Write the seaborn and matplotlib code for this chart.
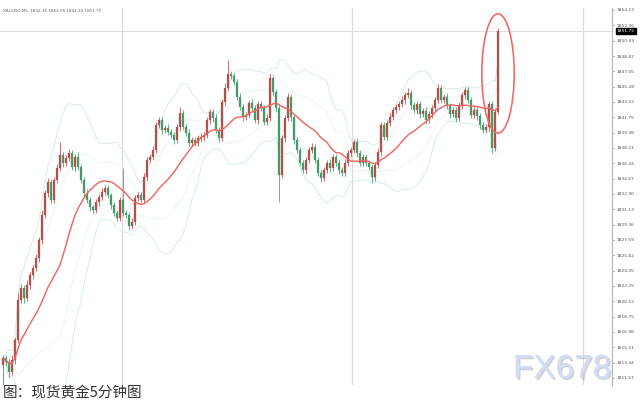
import numpy as np
import pandas as pd
import matplotlib
matplotlib.use("Agg")
import matplotlib.pyplot as plt
import seaborn as sns
from matplotlib.patches import Ellipse
import matplotlib.patheffects as pe
import matplotlib.transforms as mtransforms

# ---------------- data (XAUUSD 5-minute candles) ----------------
first_open = 1813.20
closes = [
    1813.97, 1813.51, 1812.35, 1813.74, 1816.04, 1820.66, 1822.04, 1820.89, 1822.39, 1823.54,
    1824.35, 1825.51, 1827.58, 1830.47, 1833.01, 1834.28, 1832.20, 1834.51, 1835.89, 1837.39,
    1836.47, 1837.05, 1837.62, 1836.01, 1837.16, 1836.01, 1834.51, 1833.01, 1832.20, 1831.39,
    1831.05, 1831.97, 1832.55, 1833.12, 1833.58, 1832.78, 1831.62, 1830.70, 1830.12, 1832.20,
    1830.70, 1830.47, 1829.20, 1829.66, 1832.43, 1832.78, 1832.20, 1834.85, 1836.82, 1837.16,
    1837.97, 1840.85, 1841.43, 1840.28, 1840.51, 1840.05, 1839.70, 1839.12, 1840.62, 1842.24,
    1840.62, 1839.93, 1838.78, 1839.12, 1838.78, 1839.35, 1839.47, 1839.70, 1841.43, 1842.36,
    1841.66, 1840.28, 1839.35, 1843.51, 1845.12, 1846.74, 1846.51, 1845.82, 1844.09, 1842.93,
    1841.78, 1842.01, 1843.39, 1842.82, 1841.43, 1843.28, 1842.82, 1841.20, 1841.66, 1846.28,
    1844.66, 1842.82, 1835.08, 1839.35, 1841.66, 1844.09, 1841.78, 1839.12, 1837.97, 1836.47,
    1835.66, 1836.82, 1837.97, 1838.32, 1836.82, 1835.32, 1834.74, 1835.66, 1836.47, 1835.89,
    1837.16, 1836.47, 1835.66, 1835.32, 1836.47, 1837.62, 1837.97, 1838.89, 1837.62, 1836.47,
    1837.16, 1836.47, 1836.01, 1834.85, 1836.24, 1837.74, 1840.85, 1839.47, 1841.09, 1841.78,
    1842.59, 1842.93, 1843.28, 1843.74, 1844.32, 1844.55, 1843.16, 1842.59, 1843.28, 1842.12,
    1842.47, 1841.43, 1842.12, 1842.82, 1843.74, 1845.12, 1843.74, 1844.09, 1843.05, 1842.12,
    1842.59, 1841.66, 1843.05, 1844.32, 1844.89, 1843.74, 1842.01, 1842.59, 1841.89, 1840.85,
    1840.28, 1840.62, 1843.28, 1838.20, 1842.36, 1851.75,
]
upper_wick = [
    0.4, 0.3, 0.5, 0.6, 0.4, 0.8, 0.5, 0.3, 0.6, 0.4,
    0.3, 0.5, 0.4, 0.6, 0.3, 0.5, 0.4, 0.3, 0.5, 1.5,
    0.4, 0.3, 0.5, 0.3, 0.4, 0.6, 0.3, 0.4, 0.5, 0.3,
    0.2, 0.4, 0.3, 0.5, 0.3, 0.4, 0.2, 0.3, 0.4, 0.3,
    3.7, 0.3, 0.4, 0.5, 0.3, 0.4, 0.3, 0.5, 0.4, 0.3,
    0.5, 0.4, 0.3, 0.4, 0.3, 0.5, 0.3, 0.4, 0.3, 0.7,
    0.4, 0.3, 0.5, 0.3, 0.4, 0.3, 0.5, 0.4, 0.3, 0.4,
    0.3, 0.5, 0.4, 0.3, 0.6, 1.6, 0.4, 0.3, 0.4, 0.5,
    0.3, 0.4, 0.3, 0.5, 0.4, 0.3, 0.4, 0.3, 0.5, 0.6,
    0.4, 0.3, 0.5, 0.4, 0.3, 0.5, 0.4, 0.3, 0.4, 0.3,
    0.3, 0.4, 0.3, 0.5, 0.3, 0.4, 0.3, 0.4, 0.3, 0.5,
    0.4, 0.3, 0.4, 0.3, 0.5, 0.3, 0.4, 0.3, 0.5, 0.4,
    0.3, 0.4, 0.3, 0.4, 0.3, 0.5, 0.4, 0.3, 0.4, 0.5,
    0.3, 0.4, 0.3, 0.5, 0.4, 0.6, 0.3, 0.4, 0.3, 0.4,
    0.3, 0.5, 0.4, 0.3, 0.4, 0.5, 0.3, 0.4, 0.5, 0.3,
    0.4, 0.3, 0.5, 0.4, 0.3, 0.4, 0.3, 0.5, 0.4, 0.3,
    0.4, 0.3, 0.4, 0.3, 0.4, 0.3,
]
lower_wick = [
    2.3, 0.5, 0.6, 0.4, 0.5, 0.3, 0.4, 0.6, 0.3, 0.5,
    0.4, 0.3, 0.5, 0.4, 0.3, 0.5, 0.4, 0.3, 0.4, 0.3,
    0.5, 0.3, 0.4, 0.3, 0.5, 0.4, 0.3, 0.4, 0.3, 0.5,
    0.4, 0.3, 0.5, 0.4, 0.3, 0.4, 0.5, 0.3, 0.4, 0.3,
    0.3, 0.4, 0.5, 0.3, 0.4, 0.3, 0.4, 0.3, 0.5, 0.4,
    0.3, 0.4, 0.3, 0.5, 0.4, 0.3, 0.4, 0.5, 0.3, 0.4,
    0.3, 0.4, 0.3, 0.5, 0.4, 0.3, 0.4, 0.5, 0.3, 0.4,
    0.4, 0.3, 0.4, 0.3, 0.5, 0.3, 0.4, 0.3, 0.4, 0.3,
    0.5, 0.4, 0.3, 0.4, 0.3, 0.5, 0.4, 0.3, 0.4, 0.3,
    0.4, 0.5, 3.1, 0.3, 0.4, 0.3, 0.5, 0.4, 0.3, 0.4,
    0.3, 0.5, 0.4, 0.3, 0.4, 0.3, 0.5, 0.4, 0.3, 0.4,
    0.3, 0.4, 0.5, 0.3, 0.4, 0.3, 0.4, 0.3, 0.5, 0.4,
    0.3, 0.4, 0.3, 0.7, 0.4, 0.3, 0.5, 0.4, 0.3, 0.4,
    0.3, 0.4, 0.3, 0.4, 0.5, 0.3, 0.4, 0.3, 0.5, 0.4,
    0.3, 0.4, 0.3, 0.5, 0.4, 0.3, 0.4, 0.3, 0.4, 0.5,
    0.3, 0.4, 0.3, 0.4, 0.5, 0.3, 0.4, 0.3, 0.5, 0.4,
    0.3, 0.4, 0.5, 0.6, 0.4, 0.2,
]
price_ticks = ["1854.13", "1852.36", "1850.59", "1848.82", "1847.05", "1845.28", "1843.52",
               "1841.75", "1839.98", "1838.21", "1836.44", "1834.67", "1832.90", "1831.13",
               "1829.36", "1827.59", "1825.82", "1824.05", "1822.29", "1820.52", "1818.75",
               "1816.98", "1815.21", "1813.44", "1811.67"]
session_breaks = [39.7, 116.3, 193.3]
header_text = "XAUUSD,M5  1842.36 1852.05 1842.30 1851.75"
caption = "图：现货黄金5分钟图"
watermark = "FX678"

# ---------------- derived ----------------
close = np.array(closes)
open_ = np.concatenate([[first_open], close[:-1]])
high = np.maximum(open_, close) + np.array(upper_wick)
low = np.minimum(open_, close) - np.array(lower_wick)
idx = np.arange(len(close))
df = pd.DataFrame({"i": idx, "open": open_, "high": high, "low": low, "close": close})
roll = df["close"].rolling(20, min_periods=1)
df["mid"] = roll.mean()
df["sd"] = roll.std().fillna(0)
df["up2"] = df["mid"] + 2 * df["sd"]
df["lo2"] = df["mid"] - 2 * df["sd"]
df["up1"] = df["mid"] + 1 * df["sd"]
df["lo1"] = df["mid"] - 1 * df["sd"]

# ---------------- figure ----------------
sns.set_theme(style="white")
plt.rcParams["font.family"] = ["DejaVu Sans"]
fig = plt.figure(figsize=(6.4, 4.0), dpi=100)
fig.patch.set_facecolor("white")
ax = fig.add_axes([0.0, 0.0375, 612 / 640, 0.9425])
ax.set_facecolor("white")

for xb in session_breaks:
    ax.axvline(xb, color="#d9d9d9", lw=0.8, zorder=0)
ax.axhline(close[-1], color="#dcdcdc", lw=0.7, zorder=0)

for col in ["up2", "lo2"]:
    sns.lineplot(x=df["i"], y=df[col], ax=ax, color="#cdeae3", linewidth=0.6, zorder=1)
for col in ["up1", "lo1"]:
    sns.lineplot(x=df["i"], y=df[col], ax=ax, color="#e0f2ed", linewidth=0.5, zorder=1)

up_col, dn_col = "#b3504b", "#47996a"
colors = np.where(df["close"] >= df["open"], up_col, dn_col)
ax.vlines(df["i"], df["low"], df["high"], colors=colors, linewidth=0.55, zorder=2)
body = (df["close"] - df["open"]).to_numpy()
body = np.where(np.abs(body) < 0.08, 0.08, body)
ax.bar(df["i"], body, bottom=df["open"], width=0.62, color=colors,
       edgecolor=colors, linewidth=0.2, zorder=3)

sns.lineplot(x=df["i"], y=df["mid"], ax=ax, color="#f0635c", linewidth=1.0, zorder=4)

n = len(close)
e_h = (high[-1] - open_[-1]) * 1.42
e_c = (high[-1] + open_[-1]) / 2 - 0.4
ax.add_patch(Ellipse((n - 1, e_c), width=10.8, height=e_h, fill=False,
                     edgecolor="#f26a6a", linewidth=1.2, zorder=5))

ax.set_xlim(-1, 203)
ax.set_ylim(1810.85, 1854.36)
ax.set_xlabel("")
ax.set_ylabel("")
ax.set_xticks([])
ax.yaxis.tick_right()
ax.set_yticks([float(t) for t in price_ticks])
ax.set_yticklabels(price_ticks)
ax.tick_params(axis="y", labelsize=3.2, colors="#555555", length=1.5, width=0.4, pad=2)
for s in ["left", "top", "bottom"]:
    ax.spines[s].set_visible(False)
ax.spines["right"].set_color("#b5b5b5")
ax.spines["right"].set_linewidth(0.8)

trans = mtransforms.blended_transform_factory(ax.transAxes, ax.transData)
ax.text(1.008, close[-1], f"{close[-1]:.2f}", transform=trans, fontsize=3.2, color="white",
        va="center", ha="left", clip_on=False,
        bbox=dict(boxstyle="square,pad=0.25", fc="black", ec="black"))

fig.text(0.004, 0.972, header_text, fontsize=3.0, color="#666666", va="center", ha="left")

fig.text(513 / 640, 22 / 400, watermark, fontsize=24, family="Liberation Sans",
         color="#d3ddef", ha="left", va="baseline",
         path_effects=[pe.withSimplePatchShadow(offset=(1.2, -1.2), shadow_rgbFace="#9aa3b0", alpha=0.5),
                       pe.Normal()])

fig.text(0.004, 0.0, caption, fontsize=10.5, va="bottom", ha="left", color="#333333",
         family=["Noto Sans CJK SC", "DejaVu Sans"])

fig.savefig("out.png", dpi=100, facecolor="white")
